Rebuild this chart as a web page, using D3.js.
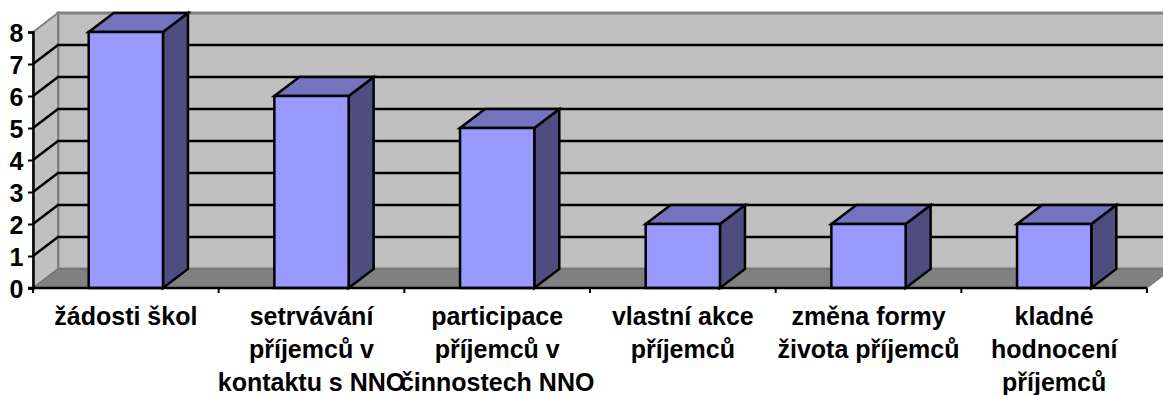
<!DOCTYPE html>
<html>
<head>
<meta charset="utf-8">
<script src="https://cdn.jsdelivr.net/npm/d3@7"></script>
<style>
html,body{margin:0;padding:0;background:#fff;overflow:hidden}
svg{display:block}
text{font-family:"Liberation Sans",Arial,sans-serif;font-weight:bold;fill:#000}
</style>
</head>
<body>
<svg id="chart" width="1163" height="395"></svg>
<script>
const categories = [
  ["žádosti škol"],
  ["setrvávání", "příjemců v", "kontaktu s NNO"],
  ["participace", "příjemců v", "činnostech NNO"],
  ["vlastní akce", "příjemců"],
  ["změna formy", "života příjemců"],
  ["kladné", "hodnocení", "příjemců"]
];
const values = [8, 6, 5, 2, 2, 2];
const tickValues = [0, 1, 2, 3, 4, 5, 6, 7, 8];

const svg = d3.select("#chart");
const plotLeft = 33, plotRight = 1147, plotBase = 288, plotTop = 32;
const depthX = 25, depthY = -19;

const x = d3.scaleBand().domain(d3.range(categories.length)).range([plotLeft, plotRight]).paddingInner(0.6).paddingOuter(0.3);
const y = d3.scaleLinear().domain([0, 8]).range([plotBase, plotTop]);
const poly = pts => pts.map(p => p.join(",")).join(" ");

// Back wall, side wall and floor of the 3D plot box
svg.append("polygon").attr("points", poly([[plotLeft + depthX, y(8) + depthY], [plotRight + depthX, y(8) + depthY], [plotRight + depthX, plotBase + depthY], [plotLeft + depthX, plotBase + depthY]]))
  .attr("fill", "#c0c0c0").attr("stroke", "#808080").attr("stroke-width", 3);
svg.append("polygon").attr("points", poly([[plotLeft, y(8)], [plotLeft + depthX, y(8) + depthY], [plotLeft + depthX, plotBase + depthY], [plotLeft, plotBase]]))
  .attr("fill", "#c0c0c0").attr("stroke", "#808080").attr("stroke-width", 2);
svg.append("polygon").attr("points", poly([[plotLeft, plotBase], [plotLeft + depthX, plotBase + depthY], [plotRight + depthX, plotBase + depthY], [plotRight, plotBase]]))
  .attr("fill", "#808080").attr("stroke", "#6e6e6e").attr("stroke-width", 1);

// Gridlines run along the side wall and across the back wall
const grid = svg.append("g").attr("fill", "none").attr("stroke", "#000").attr("stroke-width", 2.5);
tickValues.filter(t => t > 0 && t < 8).forEach(t => {
  grid.append("polyline").attr("points", poly([[plotLeft, y(t)], [plotLeft + depthX, y(t) + depthY], [plotRight + depthX, y(t) + depthY]]));
});

// Bars: right side, top cap, then front face
const bars = svg.append("g").attr("stroke", "#000").attr("stroke-width", 2.5).attr("stroke-linejoin", "miter");
values.forEach((v, i) => {
  const x0 = x(i), x1 = x0 + x.bandwidth(), yt = y(v);
  bars.append("polygon").attr("points", poly([[x1, yt], [x1 + depthX, yt + depthY], [x1 + depthX, plotBase + depthY], [x1, plotBase]])).attr("fill", "#4d4d80");
  bars.append("polygon").attr("points", poly([[x0, yt], [x0 + depthX, yt + depthY], [x1 + depthX, yt + depthY], [x1, yt]])).attr("fill", "#7373bf");
  bars.append("rect").attr("x", x0).attr("y", yt).attr("width", x1 - x0).attr("height", plotBase - yt).attr("fill", "#9999ff");
});

// Value axis on the front-left edge
const yAxis = d3.axisLeft(y).tickValues(tickValues).tickSize(5).tickFormat(d3.format("d"));
const gy = svg.append("g").attr("transform", `translate(${plotLeft},0)`).call(yAxis);
gy.select(".domain").attr("stroke", "#000").attr("stroke-width", 2.5);
gy.selectAll(".tick line").attr("stroke", "#000").attr("stroke-width", 2);
gy.selectAll(".tick text").attr("font-size", 25).attr("x", -9.5).style("font-family", '"Liberation Sans",Arial,sans-serif').attr("dy", "0.36em");

// Category axis with its ticks between the groups
const xEdges = d3.scaleLinear().domain([0, categories.length]).range([plotLeft, plotRight]);
const gx = svg.append("g");
gx.append("line").attr("x1", plotLeft - 5).attr("x2", plotRight).attr("y1", plotBase).attr("y2", plotBase).attr("stroke", "#000").attr("stroke-width", 2.5);
d3.range(categories.length + 1).forEach(i => {
  gx.append("line").attr("x1", xEdges(i)).attr("x2", xEdges(i)).attr("y1", plotBase).attr("y2", plotBase + 5).attr("stroke", "#000").attr("stroke-width", 2);
});

// Multi-line category labels
const labels = svg.append("g").attr("text-anchor", "middle").attr("font-size", 25);
categories.forEach((lines, i) => {
  lines.forEach((line, j) => {
    labels.append("text").attr("x", x(i) + x.bandwidth() / 2).attr("y", 325 + j * 33).text(line);
  });
});
</script>
</body>
</html>
